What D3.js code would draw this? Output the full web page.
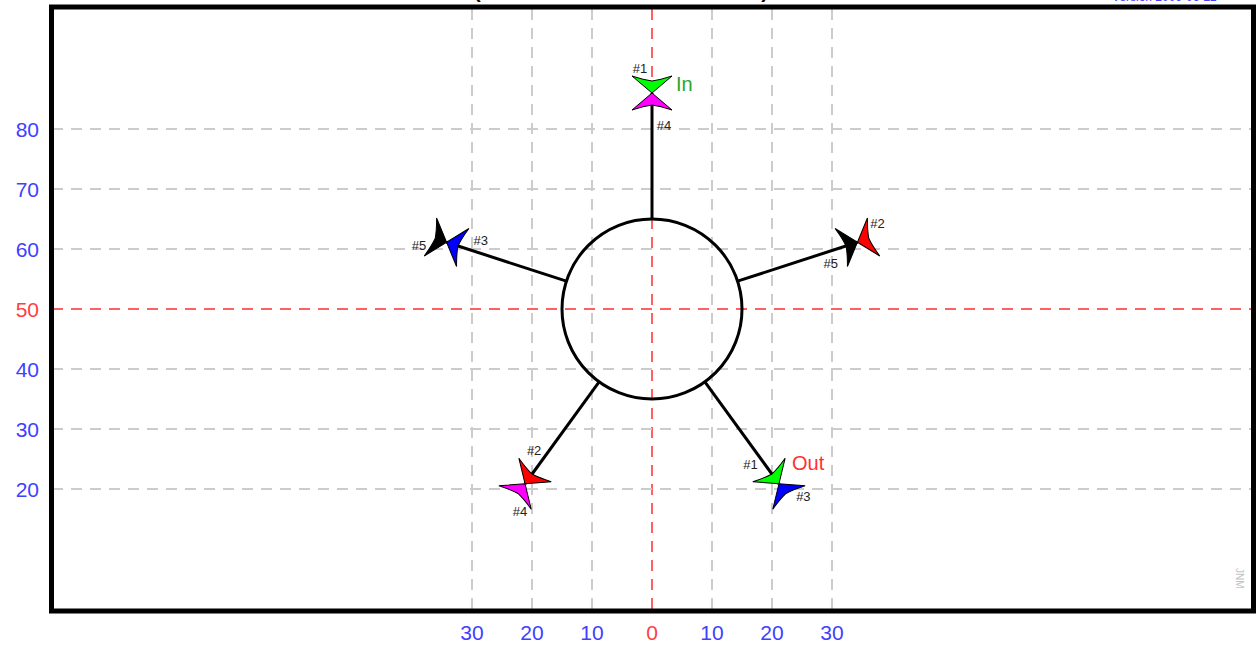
<!DOCTYPE html>
<html>
<head>
<meta charset="utf-8">
<script src="https://cdn.jsdelivr.net/npm/d3@7"></script>
<style>
  html, body { margin: 0; padding: 0; background: #fff; }
  svg { display: block; font-family: "Liberation Sans", Arial, sans-serif; }
</style>
</head>
<body>
<svg id="chart" width="1256" height="645"></svg>
<script>
// ---------- data ----------
const xTicks = [-30, -20, -10, 0, 10, 20, 30];
const yTicks = [20, 30, 40, 50, 60, 70, 80];
const hubCenter = [0, 50];
const hubRadius = 15;
const pipeEndRadius = 36;
const pipeAngles = [90, 18, -54, -126, 162];      // degrees, pentagon layout
const inFlows  = [1, 2, 3, 4, 5];                  // arrow pointing toward hub
const outFlows = [4, 5, 1, 2, 3];                  // arrow pointing away from hub
const pipeNames = ["In", "", "Out", "", ""];
const flowIds = [1, 2, 3, 4, 5];
const flowColors = ["#00ff00", "#ff0000", "#0000ff", "#ff00ff", "#000000"];
const titleText = "(FIVE BRANCH NODE FLOWS)";
const versionText = "Version 2009-06-22";
const authorText = "JNM";

// ---------- layout ----------
const svg = d3.select("#chart");
const x = d3.scaleLinear().domain([-100, 100]).range([52, 1252]);
const y = d3.scaleLinear().domain([0, 100]).range([609, 9]);
const colorOf = d3.scaleOrdinal().domain(flowIds).range(flowColors);
const nameColor = { "In": "#2aa82a", "Out": "#ff3030" };
const nameOffset = { "In": [24, -2], "Out": [13, -14] };
const blue = "#4040ff", redAxis = "#ff4040";

// title & version (cut off at top, as in the reference)
svg.append("text").attr("x", 474).attr("y", -2)
  .attr("textLength", 294).attr("lengthAdjust", "spacingAndGlyphs")
  .attr("font-size", 18).attr("font-weight", "bold").attr("fill", "#000")
  .text(titleText);
svg.append("text").attr("x", 1112).attr("y", 1)
  .attr("font-size", 12).attr("fill", blue).text(versionText);

// grid
const grid = svg.append("g");
grid.selectAll("line.gx").data(xTicks).join("line")
  .attr("x1", d => x(d)).attr("x2", d => x(d))
  .attr("y1", y(100)).attr("y2", y(0))
  .attr("stroke", d => d === 0 ? "#ff6060" : "#cccccc")
  .attr("stroke-width", 2).attr("stroke-dasharray", "11,8");
grid.selectAll("line.gy").data(yTicks).join("line")
  .attr("x1", x(-100)).attr("x2", x(100))
  .attr("y1", d => y(d)).attr("y2", d => y(d))
  .attr("stroke", d => d === 50 ? "#ff6060" : "#cccccc")
  .attr("stroke-width", 2).attr("stroke-dasharray", "11,8");

// axis labels
svg.append("g").selectAll("text").data(xTicks).join("text")
  .attr("x", d => x(d)).attr("y", 640)
  .attr("text-anchor", "middle").attr("font-size", 21)
  .attr("fill", d => d === 0 ? redAxis : blue)
  .text(d => Math.abs(d));
svg.append("g").selectAll("text").data(yTicks).join("text")
  .attr("x", 39).attr("y", d => y(d) + 7.5)
  .attr("text-anchor", "end").attr("font-size", 21)
  .attr("fill", d => d === 50 ? redAxis : blue)
  .text(d => d);

// frame
svg.append("rect")
  .attr("x", 51.5).attr("y", 7).attr("width", 1202).attr("height", 604)
  .attr("fill", "none").attr("stroke", "#000").attr("stroke-width", 5);

// author mark
svg.append("text")
  .attr("transform", `translate(1236,568) rotate(90)`)
  .attr("font-size", 10).attr("fill", "#c4c4c4").text(authorText);

// pipes
const deg = Math.PI / 180;
const pipes = pipeAngles.map((a, i) => {
  const ux = Math.cos(a * deg), uy = Math.sin(a * deg);
  return {
    angle: a, ux, uy,
    start: [x(hubCenter[0] + hubRadius * ux), y(hubCenter[1] + hubRadius * uy)],
    tip: [x(hubCenter[0] + pipeEndRadius * ux), y(hubCenter[1] + pipeEndRadius * uy)],
    inFlow: inFlows[i], outFlow: outFlows[i], name: pipeNames[i]
  };
});

svg.append("g").selectAll("line").data(pipes).join("line")
  .attr("x1", d => d.start[0]).attr("y1", d => d.start[1])
  .attr("x2", d => d.tip[0]).attr("y2", d => d.tip[1])
  .attr("stroke", "#000").attr("stroke-width", 3);

// hub
svg.append("circle")
  .attr("cx", x(hubCenter[0])).attr("cy", y(hubCenter[1]))
  .attr("r", x(hubRadius) - x(0))
  .attr("fill", "none").attr("stroke", "#000").attr("stroke-width", 3);

// arrowheads: local shape, tip at origin, pointing +x
const arrowPath = "M0,0 L-17,-20 Q-13,-8 -12,0 Q-13,8 -17,20 Z";
const arrows = [];
pipes.forEach(p => {
  const screenAng = -p.angle;  // screen rotation of outward direction
  arrows.push({ p, flow: p.inFlow, rot: screenAng + 180, kind: "in" });
  arrows.push({ p, flow: p.outFlow, rot: screenAng, kind: "out" });
});
svg.append("g").selectAll("path").data(arrows).join("path")
  .attr("d", arrowPath)
  .attr("transform", d => `translate(${d.p.tip[0]},${d.p.tip[1]}) rotate(${d.rot})`)
  .attr("fill", d => colorOf(d.flow))
  .attr("stroke", "#000").attr("stroke-width", 1).attr("stroke-linejoin", "miter");

// flow number labels (local frame: u outward, n lateral)
function labelPos(d) {
  const u = [d.p.ux, -d.p.uy];       // screen outward
  const n = [u[1], -u[0]];
  const [du, dn] = d.kind === "in" ? [25, 12] : [-32, -12];
  return [d.p.tip[0] + du * u[0] + dn * n[0], d.p.tip[1] + du * u[1] + dn * n[1]];
}
svg.append("g").selectAll("text").data(arrows).join("text")
  .attr("x", d => labelPos(d)[0]).attr("y", d => labelPos(d)[1] + 4.5)
  .attr("text-anchor", "middle").attr("font-size", 13).attr("fill", "#222")
  .text(d => "#" + d.flow);

// pipe names
svg.append("g").selectAll("text").data(pipes.filter(p => p.name)).join("text")
  .attr("x", d => d.tip[0] + nameOffset[d.name][0])
  .attr("y", d => d.tip[1] + nameOffset[d.name][1])
  .attr("font-size", 20).attr("fill", d => nameColor[d.name])
  .text(d => d.name);
</script>
</body>
</html>
